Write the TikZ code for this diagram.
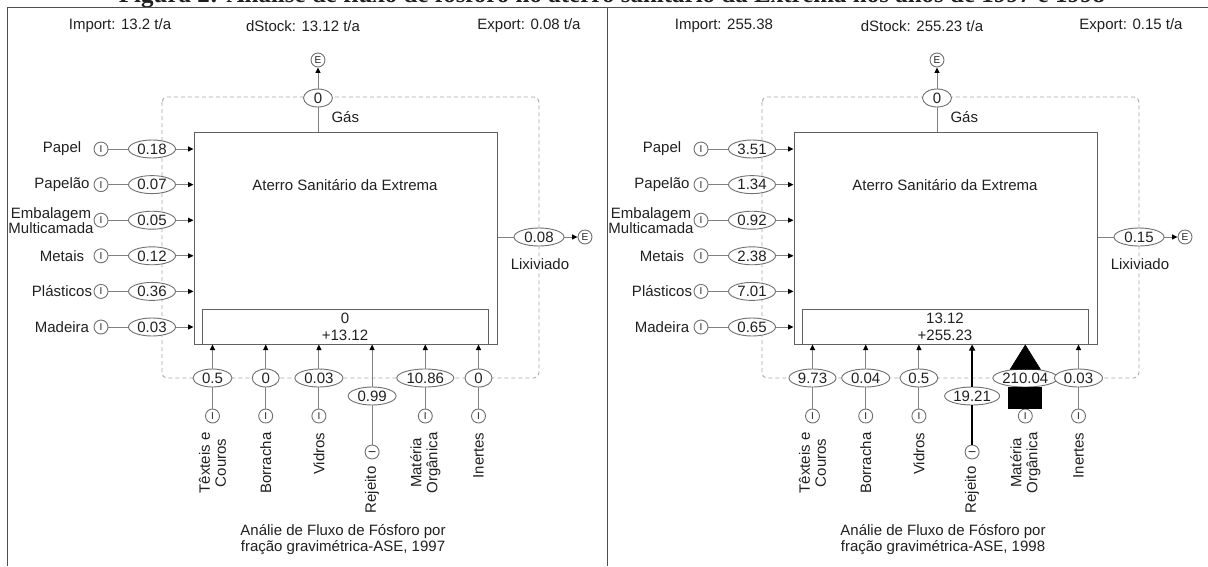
\documentclass[tikz,border=0pt]{standalone}
\usepackage{fontspec}
\setmainfont{Liberation Sans}
\newfontfamily\titlefont{Liberation Serif}
\usetikzlibrary{shapes.geometric,arrows.meta}
\definecolor{txt}{HTML}{202020}
\definecolor{egray}{HTML}{707070}
\definecolor{fgray}{HTML}{808080}
\definecolor{bgray}{HTML}{606060}
\definecolor{dgray}{HTML}{A8A8A8}
\definecolor{framecol}{HTML}{505050}
\tikzset{
  every node/.style={font=\fontsize{15}{16}\selectfont, text=txt},
  val/.style={ellipse, draw=egray, line width=0.9pt, fill=white, inner sep=0pt,
    minimum height=18pt, text height=10.5pt, text depth=0pt},
  proc/.style={circle, draw=egray, line width=0.9pt, fill=white, inner sep=0pt,
    minimum size=14pt, font=\fontsize{10}{10}\selectfont},
  boxst/.style={draw=bgray, line width=1pt, inner sep=0pt},
  flow/.style={draw=fgray, line width=0.9pt},
  tip/.style={-{Triangle[length=5.5pt,width=5pt,color=black]}},
  nlow/.style={flow},
  nup/.style={flow,tip},
  tlow/.style={draw=black, line width=2.5pt},
  tup/.style={draw=black, line width=2.5pt, -{Triangle[length=6pt,width=6pt]}},
  blow/.style={draw=black, line width=34pt},
  bup/.style={draw=black, fill=black, line width=0.5pt, -{Triangle[length=25pt,width=31pt]}},
  vlab/.style={rotate=90, anchor=east, align=center, font=\fontsize{15}{16}\selectfont},
}
% #1 prefix, #2 xshift, #3 left values, #4 bottom value/width/lowstyle/upstyle,
% #5 top value, #6 lixiviado value, #7 stock line 1, #8 stock line 2, #9 year
% \topx : x of the gas output (set before each panel)
\newcommand\mfapanel[9]{%
\begin{scope}[xshift=#2]
  \draw[dgray, dash pattern=on 4pt off 3pt, line width=0.9pt, rounded corners=5pt] (162,97) rectangle (539,378);
  \node[boxst, minimum width=303pt, minimum height=212pt] (#1box) at (345.5,238) {};
  \node (#1name) at (345,185) {Aterro Sanitário da Extrema};
  \node[boxst, minimum width=286pt, minimum height=35pt] (#1stk) at (345,326.5) {};
  \node[align=center, font=\fontsize{15}{17}\selectfont] (#1stt) at (345,326.5) {#7\\#8};
  % left inputs
  \foreach \lab/\lx [count=\k] in {Papel/62, Papelão/62, {Embalagem\\Multicamada}/51, Metais/62, Plásticos/62, Madeira/62}{
    \pgfmathsetmacro\yy{149+35.6*(\k-1)}
    \node[align=center, font=\fontsize{15}{15}\selectfont] (#1ll\k) at (\lx,\yy) {\lab};
  }
  \foreach \v [count=\k] in {#3}{
    \pgfmathsetmacro\yy{149+35.6*(\k-1)}
    \node[proc] (#1li\k) at (101,\yy) {I};
    \node[val, minimum width=47pt] (#1lv\k) at (152,\yy) {\v};
    \draw[flow] (#1li\k) -- (#1lv\k);
    \draw[flow,tip] (#1lv\k) -- (#1lv\k -| #1box.west);
  }
  % bottom inputs
  \foreach \v/\w/\sl/\su [count=\k] in {#4}{
    \pgfmathsetmacro\xx{212.5+53.2*(\k-1)}
    \pgfmathsetmacro\ey{\k==4 ? 396 : 378}
    \pgfmathsetmacro\iy{\k==4 ? 452 : 416}
    \pgfmathsetmacro\rot{\k==4 ? 90 : 0}
    \node[proc, rotate=\rot] (#1bi\k) at (\xx,\iy) {I};
    \node[val, minimum width=\w pt] (#1bv\k) at (\xx,\ey) {\v};
    \draw[\sl] (#1bi\k) -- (#1bv\k);
    \draw[\su] (#1bv\k.north) -- (#1bv\k.north |- #1box.south);
  }
  \foreach \lab/\ly [count=\k] in {{Têxteis e\\Couros}/429, Borracha/429, Vidros/429, Rejeito/463, {Matéria\\Orgânica}/429, Inertes/429}{
    \pgfmathsetmacro\xx{212.5+53.2*(\k-1)}
    \node[vlab] (#1bl\k) at (\xx,\ly) {\lab};
  }
  % gas
  \node[val, minimum width=29pt] (#1tv) at (\topx,98) {#5};
  \node[proc] (#1te) at (\topx,60) {E};
  \draw[flow,tip] (#1tv) -- (#1te);
  \draw[flow] (#1tv) -- (#1tv |- #1box.north);
  \node[anchor=west] (#1gas) at (\topx+10,117) {Gás};
  % leachate
  \node[val, minimum width=50pt] (#1lx) at (539,237) {#6};
  \node[proc] (#1le) at (585,237) {E};
  \node (#1lxl) at (540,264) {Lixiviado};
  \draw[flow] (#1lx.west -| #1box.east) -- (#1lx.west);
  \draw[flow,tip] (#1lx) -- (#1le);
  % caption
  \node[align=center, font=\fontsize{15}{16}\selectfont] (#1cap) at (343,540)
    {Análie de Fluxo de Fósforo por\\fração gravimétrica-ASE, #9};
\end{scope}}

\begin{document}
\begin{tikzpicture}[x=1pt,y=-1pt]
\useasboundingbox (0,0) rectangle (1208,566);
\node[anchor=base, font=\titlefont\bfseries\fontsize{25}{25}\selectfont] (title) at (612,2)
  {Figura 2: Análise de fluxo de fósforo no aterro sanitário da Extrema nos anos de 1997 e 1998};
\draw[framecol, line width=1pt] (7,566) -- (7,7) -- (1208,7);
\draw[framecol, line width=1pt] (607,7) -- (607,566);

\node (Limp) at (120,26) {Import: 13.2 t/a};
\node (Lds) at (303,26) {dStock: 13.12 t/a};
\node (Lexp) at (529,26) {Export: 0.08 t/a};
\node (Rimp) at (724,26) {Import: 255.38};
\node (Rds) at (922,26) {dStock: 255.23 t/a};
\node (Rexp) at (1131,26) {Export: 0.15 t/a};

\def\topx{318}
\mfapanel{L}{0}{0.18,0.07,0.05,0.12,0.36,0.03}
  {0.5/39/nlow/nup, 0/27/nlow/nup, 0.03/48/nlow/nup, 0.99/48/nlow/nup, 10.86/57/nlow/nup, 0/27/nlow/nup}
  {0}{0.08}{0}{+13.12}{1997}
\def\topx{337}
\mfapanel{R}{600}{3.51,1.34,0.92,2.38,7.01,0.65}
  {9.73/47/nlow/nup, 0.04/48/nlow/nup, 0.5/38/nlow/nup, 19.21/55/tlow/tup, 210.04/62/blow/bup, 0.03/48/nlow/nup}
  {0}{0.15}{13.12}{+255.23}{1998}
\end{tikzpicture}
\end{document}
